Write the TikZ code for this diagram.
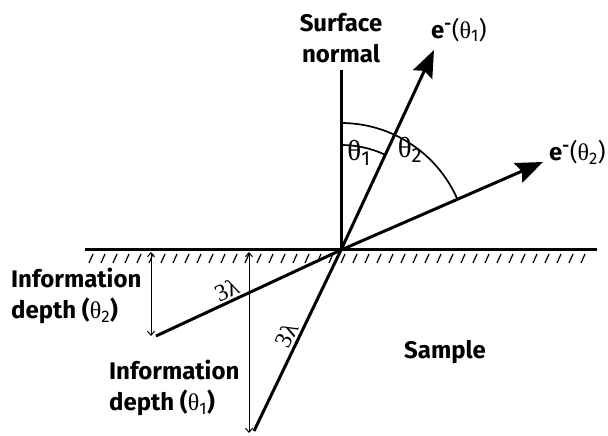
\documentclass[tikz,border=0pt]{standalone}
\usepackage{fontspec}
\setmainfont{Fira Sans}
\newfontfamily\grk{Liberation Serif}
\usetikzlibrary{positioning,arrows.meta}
\newcommand{\thet}[1]{{\grk\mdseries θ}\textsubscript{\mdseries #1}}

\begin{document}
\begin{tikzpicture}[
    x=1pt, y=1pt,
    beam/.style={line width=3pt, line join=round},
    ray/.style={beam, -{Stealth[length=27pt, width=21pt, inset=4pt]}},
    dim/.style={line width=1pt, {Straight Barb[length=4pt, width=7pt]}-{Straight Barb[length=4pt, width=7pt]}},
    ang/.style={line width=1.7pt},
    hatch/.style={line width=1.2pt},
    lbl/.style={font=\bfseries\fontsize{24}{31}\selectfont, align=left, inner sep=0pt},
    lam/.style={font=\grk\fontsize{24}{24}\selectfont, inner sep=3.5pt}
  ]
    \useasboundingbox (0,0) rectangle (608,436);
    % surface and sample
    \coordinate (O) at (341,186);
    \coordinate (sl) at (85,186);
    \coordinate (sr) at (597,186);
    \draw[beam] (sl) -- (sr);
    \foreach \x in {93,105,...,590}
      \draw[hatch] (\x,182) -- ++(-4,-9);
    % normal and electron paths
    \coordinate (ntop) at (341,366);
    \coordinate (t1) at (434,386);
    \coordinate (t2) at (543,274);
    \coordinate (b1) at (254,5);
    \coordinate (b2) at (156,100);
    \draw[beam] (O) -- (ntop);
    \draw[ray] (b1) -- (O) -- (t1);
    \draw[ray] (b2) -- (O) -- (t2);
    \draw[ang] (O) ++(90:105) arc[start angle=90, end angle=65, radius=105];
    \draw[ang] (O) ++(90:127) arc[start angle=90, end angle=23.5, radius=127];
    \path (b2) -- (O) node[lam, pos=0.41, sloped, above] (lam2) {3λ};
    \path (b1) -- (O) node[lam, pos=0.5, sloped, above] (lam1) {3λ};
    % depths
    \coordinate (d2a) at (151,184);
    \coordinate (d2b) at (151,100);
    \coordinate (d1a) at (249,184);
    \coordinate (d1b) at (249,3);
    \draw[dim] (d2a) -- (d2b);
    \draw[dim] (d1a) -- (d1b);
    % labels
    \node[lbl, align=center] (nrm) at (341,398) {Surface\\normal};
    \node[lbl, anchor=west] (e1) at (431,406) {e\textsuperscript{-}\mdseries(\thet1)};
    \node[lbl, anchor=west] (e2) at (549,284) {e\textsuperscript{-}\mdseries(\thet2)};
    \node[font=\fontsize{29}{29}\selectfont] (th1) at (359,283) {\thet1};
    \node[font=\fontsize{29}{29}\selectfont] (th2) at (410,286) {\thet2};
    \node[lbl, anchor=west] (info2) at (11,140) {Information\\depth (\thet2)};
    \node[lbl, anchor=west] (info1) at (109,48) {Information\\depth (\thet1)};
    \node[lbl] (smp) at (445,84) {Sample};
\end{tikzpicture}
\end{document}
